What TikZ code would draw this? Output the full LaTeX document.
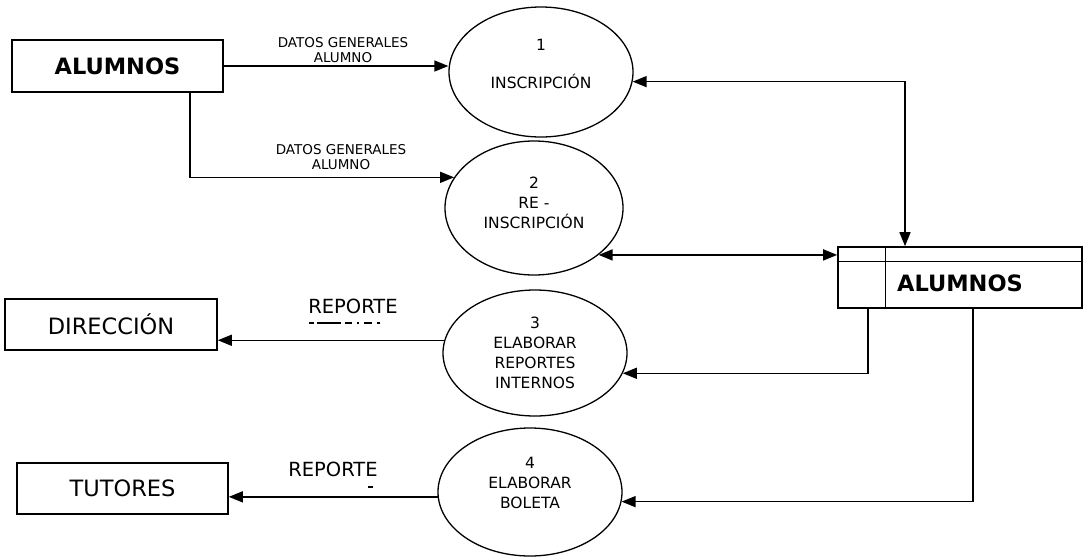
\documentclass[tikz,border=0pt]{standalone}
\usepackage{fontspec}
\setmainfont{DejaVu Sans}
\usetikzlibrary{arrows.meta,shapes.geometric,calc}
\begin{document}
\begin{tikzpicture}[x=1pt,y=-1pt,
  ent/.style={draw,line width=1.6pt,inner sep=0pt,minimum height=51pt},
  proc/.style={draw,ellipse,line width=1.3pt,inner sep=0pt},
  ptext/.style={align=center,font=\fontsize{15.5}{20}\selectfont},
  lbl/.style={align=center,font=\fontsize{13.5}{14.5}\selectfont},
  rep/.style={font=\fontsize{19.5}{22}\selectfont},
  tip/.style={Triangle[length=14pt,width=11pt]},
  flow/.style={line width=1.5pt,-{Triangle[length=14pt,width=11pt]}},
  flow2/.style={line width=1.5pt,{Triangle[length=14pt,width=11pt]}-{Triangle[length=14pt,width=11pt]}}]
\useasboundingbox (0,0) rectangle (1087,558);
% external entities
\node[ent,minimum width=211pt,minimum height=52pt,font=\fontsize{22.5}{24}\selectfont\bfseries] (alum) at (117.5,66) {ALUMNOS};
\node[ent,minimum width=212pt,font=\fontsize{22.5}{24}\selectfont] (dir) at (111,324.5) {DIRECCIÓN};
\node[ent,minimum width=211pt,font=\fontsize{22.5}{24}\selectfont] (tut) at (122.5,488.5) {TUTORES};
% processes
\node[proc,minimum width=184pt,minimum height=130pt] (p1) at (541,72) {};
\node[ptext] (t1) at (541,64) {1\\[18pt]INSCRIPCIÓN};
\node[proc,minimum width=178pt,minimum height=134pt] (p2) at (534,208) {};
\node[ptext] (t2) at (534,202.5) {2\\RE -\\INSCRIPCIÓN};
\node[proc,minimum width=184pt,minimum height=126pt] (p3) at (535,353) {};
\node[ptext] (t3) at (535,353) {3\\ELABORAR\\REPORTES\\INTERNOS};
\node[proc,minimum width=184pt,minimum height=128pt] (p4) at (530,492) {};
\node[ptext] (t4) at (530,483) {4\\ELABORAR\\BOLETA};
% data store
\node[draw,line width=1.6pt,inner sep=0pt,minimum width=244pt,minimum height=61pt] (store) at (960,277.5) {};
\draw[line width=1.3pt] ($(store.north west)+(48,0)$) -- ($(store.south west)+(48,0)$);
\draw[line width=1.3pt] ($(store.north west)+(0,15)$) -- ($(store.north east)+(0,15)$);
\node[font=\fontsize{22.5}{24}\selectfont\bfseries] (stext) at (960,283) {ALUMNOS};
% coordinates for bends
\coordinate (b2) at (190,0);
\coordinate (s1) at (905,0);
\coordinate (s3) at (868,0);
\coordinate (s4) at (973,0);
% flows
\draw[flow] (alum.east) -- (alum.east -| p1.west);
\draw[flow] (alum.south -| b2) |- (p2.159);
\draw[flow2] (p1.-6) -| (store.north -| s1);
\draw[flow2] (p2.-36) -- (store.west |- p2.-36);
\draw[flow] (store.south -| s3) |- (p3.-13);
\draw[flow] (store.south -| s4) |- (p4.-6);
\draw[flow] (p3.172) -- (p3.172 -| dir.east);
\draw[flow] (p4.183) -- (p4.183 -| tut.east);
% labels
\node[lbl] (l1) at (343,50) {DATOS GENERALES\\ALUMNO};
\node[lbl] (l2) at (341,157) {DATOS GENERALES\\ALUMNO};
\node[rep] (r1) at (353,306) {REPORTE};
\node[rep] (r2) at (333,469) {REPORTE};
\draw[line width=1.2pt,dash pattern=on 5pt off 3pt on 24pt off 4pt on 7pt off 5pt on 2pt off 5pt on 8pt] (309,323) -- (392,323);
\draw[line width=1.2pt] (368,487) -- (373,487);
\end{tikzpicture}
\end{document}
